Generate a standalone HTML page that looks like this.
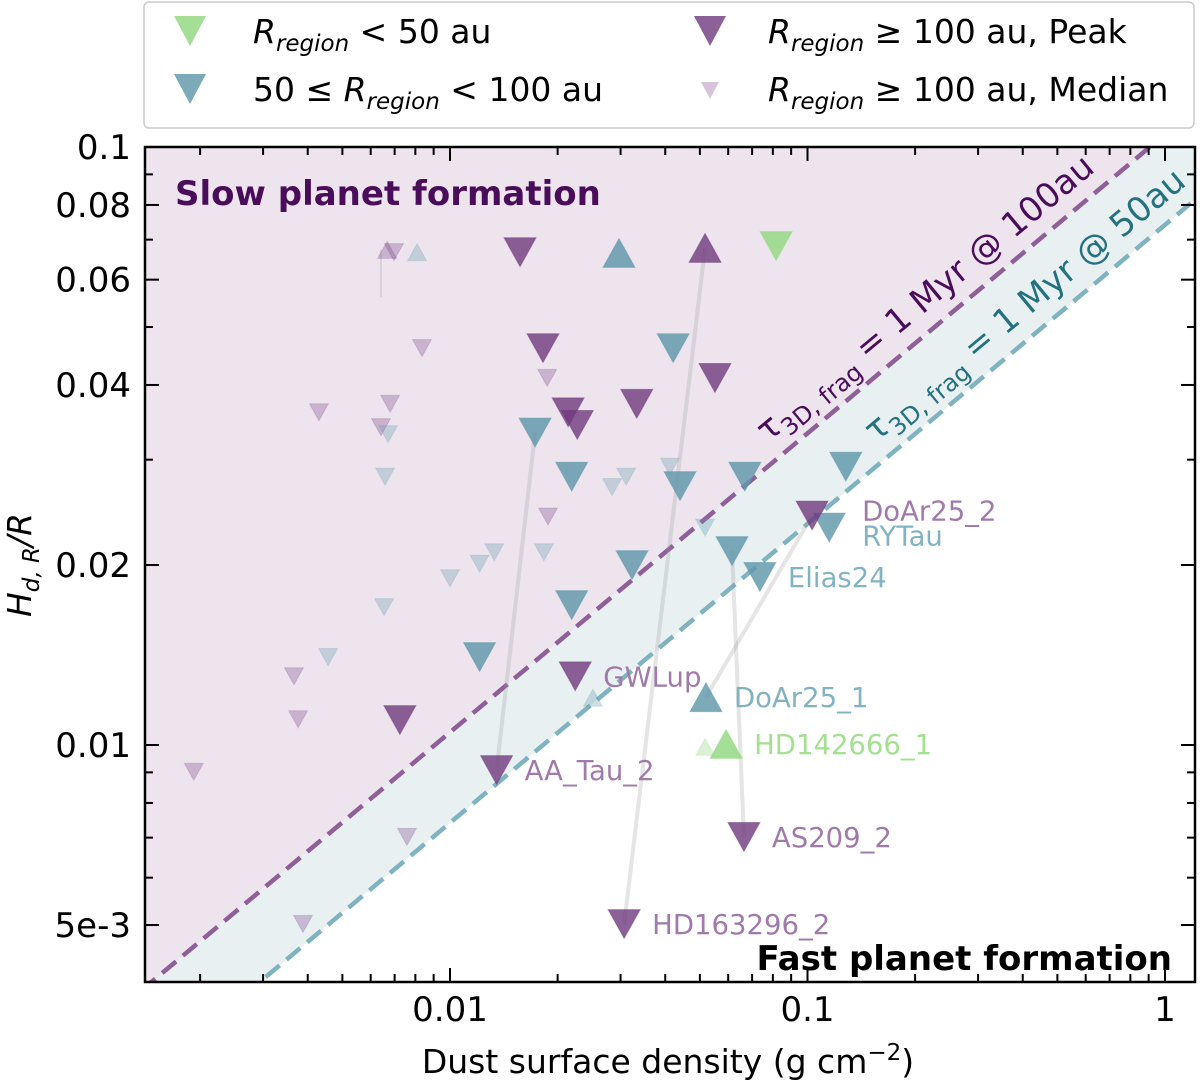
<!DOCTYPE html>
<html><head><meta charset="utf-8"><style>
html,body{margin:0;padding:0;background:#fff;}
svg{display:block;font-family:"DejaVu Sans","Liberation Sans",sans-serif;}
</style></head><body>
<svg id="chart" width="1200" height="1084" viewBox="0 0 1200 1084" xmlns="http://www.w3.org/2000/svg">
<defs><clipPath id="plotclip"><rect x="145" y="147" width="1050" height="835"/></clipPath></defs>
<g id="bg" clip-path="url(#plotclip)"></g>
<g id="lines" clip-path="url(#plotclip)"></g>
<g id="marks" clip-path="url(#plotclip)"></g>
<g id="axes"></g>
<g id="labels"></g>
</svg>
<script>
// ---- data ----
const peakSigma = [0.0157,0.0517,0.0182,0.0551,0.0214,0.0227,0.0333,0.00724,0.0224,0.0135,0.0664,0.0307,0.103];
const peakH     = [0.0667,0.0678,0.0461,0.0411,0.0360,0.0343,0.0372,0.01101,0.01303,0.00908,0.00702,0.00502,0.0242];
const peakUp    = [0,1,0,0,0,0,0,0,0,0,0,0,0];
const midSigma  = [0.0297,0.0421,0.0173,0.0219,0.0440,0.0668,0.128,0.0323,0.0615,0.0219,0.0121,0.115,0.0736,0.0520];
const midH      = [0.0665,0.0461,0.0333,0.0281,0.0271,0.0281,0.0292,0.0200,0.0211,0.01714,0.01403,0.0231,0.0191,0.01202];
const midUp     = [1,0,0,0,0,0,0,0,0,0,0,0,0,1];
const innerSigma= [0.0817,0.0592];
const innerH    = [0.0683,0.01004];
const innerUp   = [0,1];
const medPurpleSigma = [0.00667,0.00697,0.00835,0.0187,0.00430,0.00680,0.00641,0.0188,0.00366,0.00376,0.00192,0.00758,0.00388];
const medPurpleH     = [0.0673,0.0667,0.0461,0.0411,0.0360,0.0372,0.0340,0.0241,0.01303,0.01104,0.00902,0.00702,0.00502];
const medPurpleUp    = [1,0,0,0,0,0,0,0,0,0,0,0,0];
const medTealSigma = [0.00809,0.00671,0.00658,0.0284,0.0311,0.0412,0.0133,0.0121,0.0100,0.0183,0.00654,0.0517,0.00456,0.0251];
const medTealH     = [0.0667,0.0331,0.0281,0.0270,0.0281,0.0292,0.0210,0.0201,0.0190,0.0210,0.0170,0.0231,0.01403,0.0120];
const medTealUp    = [1,0,0,0,0,0,0,0,0,0,0,0,0,1];
const medGreenSigma = [0.0517];
const medGreenH     = [0.00993];
const medGreenUp    = [1];
const linkFromSigma = [0.0135,0.0307,0.0664,0.0520,0.00641];
const linkFromH     = [0.00908,0.00502,0.00702,0.01202,0.0673];
const linkToSigma   = [0.0173,0.0517,0.0615,0.103,0.00641];
const linkToH       = [0.0333,0.0678,0.0211,0.0242,0.0561];
const nameLabels = ["DoAr25_2","RYTau","Elias24","GWLup","DoAr25_1","HD142666_1","AA_Tau_2","AS209_2","HD163296_2"];
const nameSigma  = [0.103,0.115,0.0736,0.0224,0.0520,0.0592,0.0135,0.0664,0.0307];
const nameH      = [0.0242,0.0231,0.0191,0.01303,0.01202,0.01004,0.00908,0.00702,0.00502];
const nameGroup  = ["p","t","t","p","t","g","p","p","p"];
const coefs = [0.105, 0.0741]; // H = c*sqrt(Sigma): 100au, 50au
const yTickVals = [0.1,0.08,0.06,0.04,0.02,0.01,0.005];
const yTickLabels = ["0.1","0.08","0.06","0.04","0.02","0.01","5e-3"];
const xTickVals = [0.01,0.1,1];
const xTickLabels = ["0.01","0.1","1"];

// ---- axes ----
const X0=145,X1=1195,Y0=147,Y1=982;
const sx = v => 450 + 357.5*(Math.log10(v)+2);
const sy = v => 147 + 598*(-1-Math.log10(v));
const NS="http://www.w3.org/2000/svg";
function mk(tag, parent, attrs){const e=document.createElementNS(NS,tag);for(const k in attrs)e.setAttribute(k,attrs[k]);parent.appendChild(e);return e;}
const bg=document.getElementById('bg'),lines=document.getElementById('lines'),marks=document.getElementById('marks'),axes=document.getElementById('axes'),labels=document.getElementById('labels');

const xa=0.0012,xb=1.5;
function linePts(c){return [[sx(xa),sy(c*Math.sqrt(xa))],[sx(xb),sy(c*Math.sqrt(xb))]];}
const L1=linePts(coefs[0]),L2=linePts(coefs[1]);
let r=mk('polygon',bg,{points:`${X0},${Y0-5} ${X1+10},${Y0-5} ${L1[1][0]},${L1[1][1]} ${L1[0][0]},${L1[0][1]}`,fill:'#ede4ee'});


r=mk('polygon',bg,{points:`${L1[0][0]},${L1[0][1]} ${L1[1][0]},${L1[1][1]} ${L2[1][0]},${L2[1][1]} ${L2[0][0]},${L2[0][1]}`,fill:'#e8f0f2'});


let dl=mk('line',lines,{x1:L1[0][0],y1:L1[0][1],x2:L1[1][0],y2:L1[1][1],stroke:'#8e5f98','stroke-width':4.5,'stroke-dasharray':'18,9'});


dl=mk('line',lines,{x1:L2[0][0],y1:L2[0][1],x2:L2[1][0],y2:L2[1][1],stroke:'#7fb3c0','stroke-width':4.5,'stroke-dasharray':'18,9'});


for(let i=0;i<linkFromSigma.length;i++){
  const l=mk('line',lines,{x1:sx(linkFromSigma[i]),y1:sy(linkFromH[i]),x2:sx(linkToSigma[i]),y2:sy(linkToH[i]),stroke:'rgba(150,150,150,0.25)','stroke-width':i==4?2:4});
  
  
}
function tri(x,y,up,w,color,op,name){
  const h=w*0.9,hw=w/2;
  const pts = up ? `${x-hw},${y+h/2} ${x+hw},${y+h/2} ${x},${y-h/2}` : `${x-hw},${y-h/2} ${x+hw},${y-h/2} ${x},${y+h/2}`;
  const p=mk('polygon',marks,{points:pts,fill:color,'fill-opacity':op,'stroke':color,'stroke-opacity':op*0.6,'stroke-width':1});
  
  
}
function series(S,H,U,w,color,op,name){for(let i=0;i<S.length;i++)tri(sx(S[i]),sy(H[i]),U[i],w,color,op,name);}
series(medPurpleSigma,medPurpleH,medPurpleUp,19,'#773f84',0.3,'median-point-outer');
series(medTealSigma,medTealH,medTealUp,19,'#5f97a9',0.3,'median-point-mid');
series(medGreenSigma,medGreenH,medGreenUp,19,'#95d884',0.35,'median-point-inner');
series(midSigma,midH,midUp,32,'#5f97a9',0.82,'point-mid');
series(peakSigma,peakH,peakUp,32,'#6f3a7d',0.8,'point-outer-peak');
series(innerSigma,innerH,innerUp,32,'#95d884',0.85,'point-inner');

let f=mk('rect',axes,{x:X0,y:Y0,width:X1-X0,height:Y1-Y0,fill:'none',stroke:'#000','stroke-width':2.5});


for(let e=-3;e<=0;e++)for(let m=1;m<10;m++){
  const v=m*Math.pow(10,e);const x=sx(v);if(x<X0+1||x>X1-1)continue;
  const len=m==1?14:8;
  mk('line',axes,{x1:x,y1:Y1,x2:x,y2:Y1-len,stroke:'#000','stroke-width':2});
  mk('line',axes,{x1:x,y1:Y0,x2:x,y2:Y0+len,stroke:'#000','stroke-width':2});
}
for(let e=-3;e<=-1;e++)for(let m=1;m<10;m++){
  const v=m*Math.pow(10,e);const y=sy(v);if(y<Y0-1||y>Y1-1)continue;
  const major=yTickVals.some(t=>Math.abs(t-v)<1e-9);const len=major?14:8;
  mk('line',axes,{x1:X0,y1:y,x2:X0+len,y2:y,stroke:'#000','stroke-width':2});
  mk('line',axes,{x1:X1,y1:y,x2:X1-len,y2:y,stroke:'#000','stroke-width':2});
}
yTickVals.forEach((v,i)=>{
  const t=mk('text',axes,{x:131,y:sy(v)+12,'text-anchor':'end','font-size':34,fill:'#000'});
  t.textContent=yTickLabels[i];
  
  
});
xTickVals.forEach((v,i)=>{
  const t=mk('text',axes,{x:sx(v),y:1021,'text-anchor':'middle','font-size':34,fill:'#000'});
  t.textContent=xTickLabels[i];
  
  
});
const colors={p:'#a07aaa',t:'#82b3c2',g:'#a3e08f'};
nameLabels.forEach((s,i)=>{
  let dx=28,dy=10;
  if(s==="DoAr25_2"){dx=50;dy=5;}
  if(s==="RYTau"){dx=33;dy=18;}
  const t=mk('text',labels,{x:sx(nameSigma[i])+dx,y:sy(nameH[i])+dy,'font-size':27.5,fill:colors[nameGroup[i]]});
  t.textContent=s;
  
  
});
</script>
<svg style="position:absolute;left:0;top:0" width="1200" height="1084" xmlns="http://www.w3.org/2000/svg" font-family="DejaVu Sans, Liberation Sans, sans-serif">
<text x="175" y="205" font-size="34" font-weight="bold" fill="#4a0d5a">Slow planet formation</text>
<text x="1172" y="970" font-size="34" font-weight="bold" fill="#000" text-anchor="end">Fast planet formation</text>
<text transform="translate(768,443) rotate(-39.7)" font-size="34" fill="#4a0d5a">τ<tspan font-size="24" dy="9">3D, frag</tspan><tspan dy="-9"> = 1 Myr @ 100au</tspan></text>
<text transform="translate(876,443) rotate(-39.7)" font-size="34" fill="#24727f">τ<tspan font-size="24" dy="9">3D, frag</tspan><tspan dy="-9"> = 1 Myr @ 50au</tspan></text>
<text x="668" y="1073" font-size="33" text-anchor="middle">Dust surface density (g cm<tspan font-size="23" dy="-13">−2</tspan><tspan dy="13">)</tspan></text>
<text transform="translate(31,565) rotate(-90)" font-size="33" text-anchor="middle" font-style="italic">H<tspan font-size="23" dy="8">d, R</tspan><tspan dy="-8">/R</tspan></text>
<g>
<rect x="144" y="2" width="1050" height="126" rx="5" fill="#fff" stroke="#ccc" stroke-width="1.5"/>
<polygon points="174,16 206,16 190,46" fill="#95d884" fill-opacity="0.85"/>
<text x="253" y="43" font-size="33"><tspan font-style="italic">R</tspan><tspan font-style="italic" font-size="23" dy="8">region</tspan><tspan dy="-8"> &lt; 50 au</tspan></text>
<polygon points="174,74 206,74 190,104" fill="#5f97a9" fill-opacity="0.82"/>
<text x="253" y="101" font-size="33">50 ≤ <tspan font-style="italic">R</tspan><tspan font-style="italic" font-size="23" dy="8">region</tspan><tspan dy="-8"> &lt; 100 au</tspan></text>
<polygon points="694,16 726,16 710,46" fill="#6f3a7d" fill-opacity="0.8"/>
<text x="768" y="43" font-size="33"><tspan font-style="italic">R</tspan><tspan font-style="italic" font-size="23" dy="8">region</tspan><tspan dy="-8"> ≥ 100 au, Peak</tspan></text>
<polygon points="701,82 719,82 710,99" fill="#773f84" fill-opacity="0.3"/>
<text x="768" y="101" font-size="33"><tspan font-style="italic">R</tspan><tspan font-style="italic" font-size="23" dy="8">region</tspan><tspan dy="-8"> ≥ 100 au, Median</tspan></text>
</g>
</svg>
</body></html>
